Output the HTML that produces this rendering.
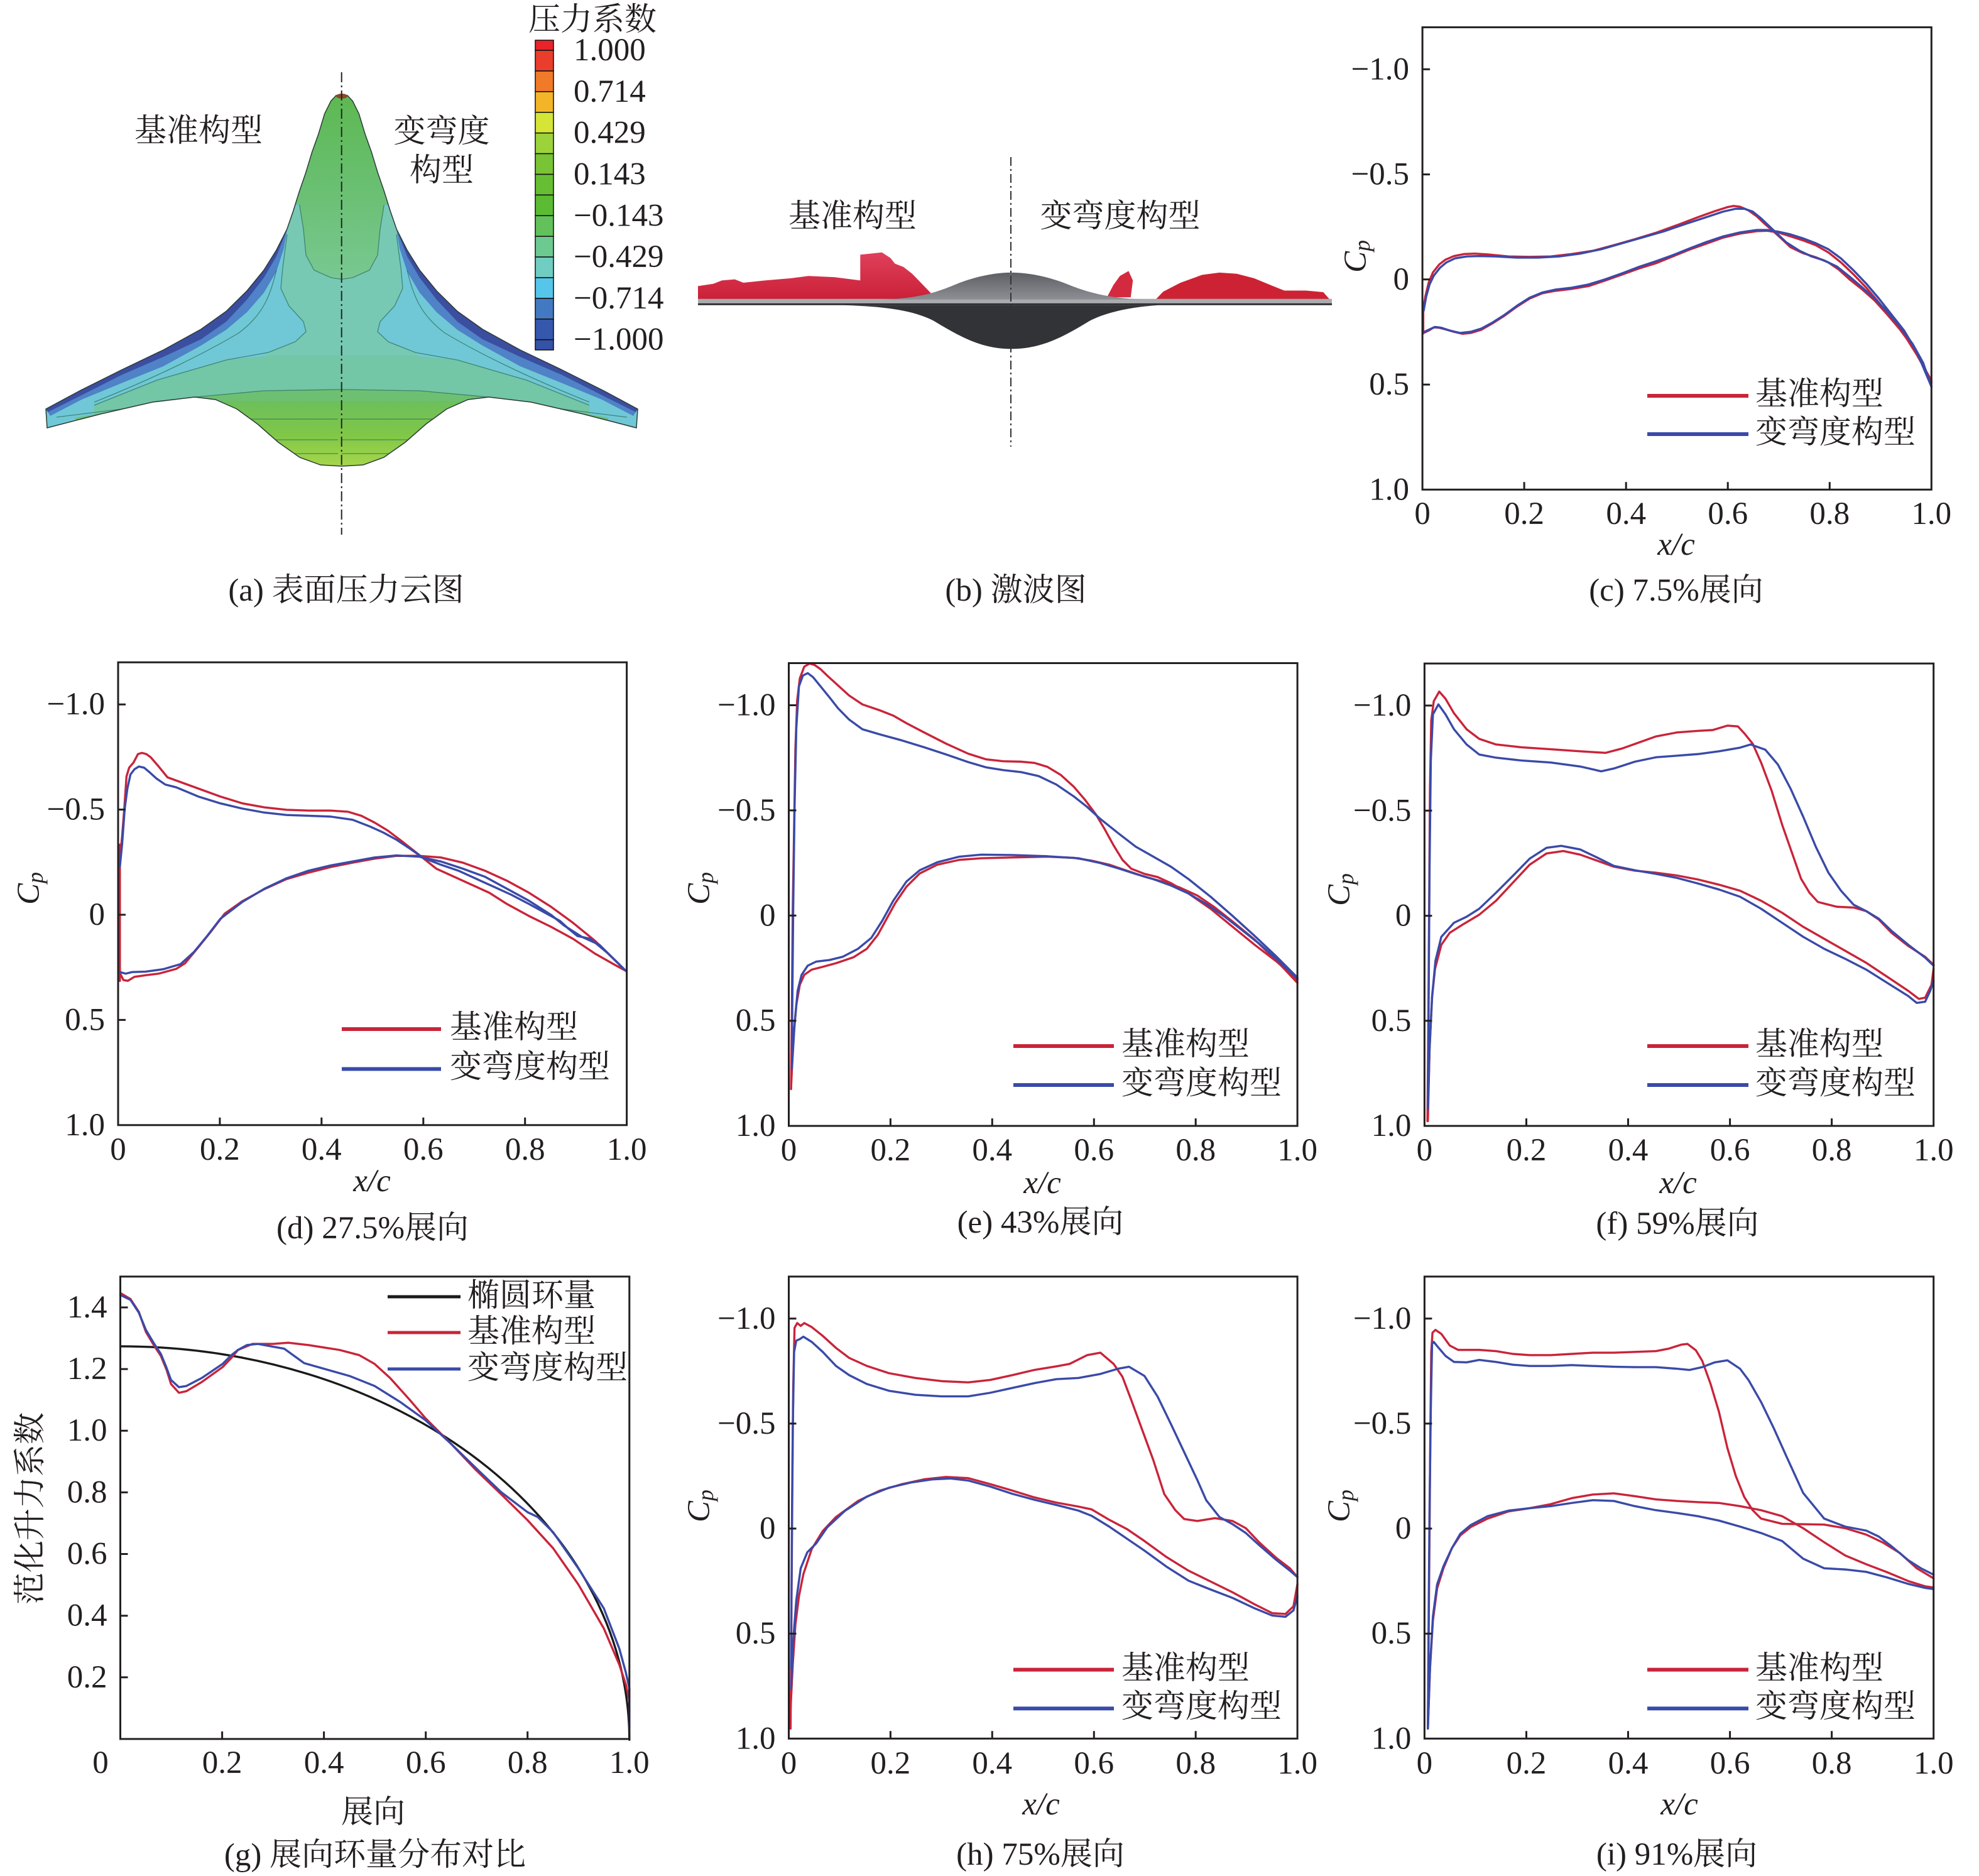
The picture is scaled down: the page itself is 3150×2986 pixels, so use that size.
<!DOCTYPE html>
<html><head><meta charset="utf-8">
<style>
html,body{margin:0;padding:0;background:#fff;}
body{width:3150px;height:2986px;overflow:hidden;}
svg{display:block}
.t{font-family:"Liberation Serif","Noto Serif CJK SC",serif;font-size:51px;fill:#231f20}
.z polyline,.z path.c{vector-effect:non-scaling-stroke;fill:none;stroke-width:3.4;stroke-linejoin:round;stroke-linecap:round}
.r{stroke:#c9243a}
.b{stroke:#3a4aa8}
.fr{fill:none;stroke:#231f20;stroke-width:3}
.tk{stroke:#231f20;stroke-width:3;fill:none}
.lg{stroke-width:6;stroke-linecap:butt}
.ct{fill:none;stroke:#2f6f5e;stroke-width:1.3;opacity:0.75}
</style></head><body>
<svg width="3150" height="2986" viewBox="0 0 3150 2986" xmlns="http://www.w3.org/2000/svg">
<rect width="3150" height="2986" fill="#fff"/>
<defs>
<clipPath id="wing"><path d="M544,150.6 L553,152 561.3,160.8 571.3,181 581.3,214 591.3,242 601.3,275 611.3,304 621.3,336 631.3,365 648,398 668,430 695,463 728,495.5 768,524 828,557 895,589 961,622 1015,651 1013,681 928,659 845,640 778,632 745,636 711,651 678,675 645,704 611,728 578,740 544,742 510,740 477,728 443,704 410,675 377,651 343,636 310,632 243,640 160,659 75,681 73,651 127,622 193,589 260,557 320,524 360,495.5 393,463 420,430 440,398 456.7,365 466.7,336 476.7,304 486.7,275 496.7,242 506.7,214 516.7,181 526.7,160.8 535,152 Z"/></clipPath>
<linearGradient id="noseG" x1="0" y1="0" x2="0" y2="1"><stop offset="0" stop-color="#5cb84f"/><stop offset="0.5" stop-color="#69bf70"/><stop offset="1" stop-color="#78c892"/></linearGradient>
<linearGradient id="bulgeG" x1="0" y1="0" x2="0" y2="1"><stop offset="0" stop-color="#6cbf5c"/><stop offset="0.5" stop-color="#80c748"/><stop offset="1" stop-color="#abd84a"/></linearGradient>
<linearGradient id="domeG" x1="0" y1="0" x2="0" y2="1"><stop offset="0" stop-color="#5d5f64"/><stop offset="1" stop-color="#8d8f94"/></linearGradient>
<linearGradient id="redG" x1="0" y1="0" x2="0" y2="1"><stop offset="0" stop-color="#e0405c"/><stop offset="1" stop-color="#c81e34"/></linearGradient>
<g id="half">
 <!-- fuselage teal -->
 <polygon fill="#77c9b4" points="430,330 544,330 544,600 380,600 427,561 470,544 487,528 483,512 460,487 447,459 450,426 457,373"/>
 <!-- nose green -->
 <polygon fill="url(#noseG)" points="400,140 544,140 544,444.5 527,442 500,430 487,406 483,365 476.7,326 430,330"/>
 <!-- LE medium blue -->
 <polygon fill="#4f82c6" points="457,365 440,398 420,430 393,463 360,495.5 320,524 260,557 193,589 127,622 73,651 80,662 130,636 193,610 260,583 320,550 360,525 393,497 420,466 440,432 452,395"/>
 <!-- LE dark blue -->
 <polygon fill="#3b4ea0" points="457,365 440,398 420,430 393,463 360,495.5 320,524 260,557 193,589 127,622 73,651 76,656 130,629 193,597 260,568 320,540 360,512 393,477 420,442 440,408"/>
 <!-- lower teal-green band -->
 <polygon fill="#73c6a6" points="150,645 250,605 360,573 430,566 544,566 544,800 150,800"/>
 <!-- green band -->
 <polygon fill="#6dc072" points="120,665 300,633 420,622 544,620 544,800 120,800"/>
 <rect x="300" y="638" width="250" height="110" fill="url(#bulgeG)"/>
 <!-- contour lines -->
 <path class="ct" d="M476.7,326 L483,365 487,406 500,430 527,442 544,444.5"/>
 <path class="ct" d="M457,373 L450,426 447,459 460,487 483,512 487,528 470,544 427,561 360,573 250,605 150,645"/>
 <path class="ct" d="M440,430 C430,470 420,500 380,530 C330,560 250,600 150,640"/>
 <path class="ct" d="M300,633 L420,622 544,620"/>
 <path class="ct" d="M360,667 L544,667"/>
 <path class="ct" d="M400,700 L544,700"/>
 <path class="ct" d="M440,722 L544,722"/>
 <path class="ct" d="M90,664 L243,645 310,637"/>
</g>
</defs>

<!-- ========== Panel (a) ========== -->
<g clip-path="url(#wing)">
 <rect x="0" y="100" width="1100" height="700" fill="#70c8d6"/>
 <use href="#half"/>
 <use href="#half" transform="matrix(-1,0,0,1,1088,0)"/>
</g>
<path d="M544,150.6 L553,152 561.3,160.8 571.3,181 581.3,214 591.3,242 601.3,275 611.3,304 621.3,336 631.3,365 648,398 668,430 695,463 728,495.5 768,524 828,557 895,589 961,622 1015,651 1013,681 928,659 845,640 778,632 745,636 711,651 678,675 645,704 611,728 578,740 544,742 510,740 477,728 443,704 410,675 377,651 343,636 310,632 243,640 160,659 75,681 73,651 127,622 193,589 260,557 320,524 360,495.5 393,463 420,430 440,398 456.7,365 466.7,336 476.7,304 486.7,275 496.7,242 506.7,214 516.7,181 526.7,160.8 535,152 Z" fill="none" stroke="#2b3b38" stroke-width="1.5"/>
<ellipse cx="544" cy="153" rx="9" ry="4" fill="#8a4a2a"/>
<line x1="543.7" y1="115" x2="543.7" y2="851" stroke="#222" stroke-width="2" stroke-dasharray="16 5 3 5"/>
<text class="t" x="316" y="209" text-anchor="middle" dominant-baseline="central">基准构型</text>
<text class="t" x="703" y="210" text-anchor="middle" dominant-baseline="central">变弯度</text>
<text class="t" x="703" y="272" text-anchor="middle" dominant-baseline="central">构型</text>
<!-- colorbar -->
<g stroke="#111" stroke-width="1.5">
 <rect x="852" y="64" width="29" height="16.1" fill="#e8232a"/>
 <rect x="852" y="80.1" width="29" height="32.9" fill="#ea3d2b"/>
 <rect x="852" y="113" width="29" height="32.9" fill="#f07a28"/>
 <rect x="852" y="145.9" width="29" height="32.9" fill="#f3b527"/>
 <rect x="852" y="178.8" width="29" height="32.9" fill="#d4e535"/>
 <rect x="852" y="211.7" width="29" height="32.9" fill="#9dd33a"/>
 <rect x="852" y="244.6" width="29" height="32.9" fill="#78c435"/>
 <rect x="852" y="277.5" width="29" height="32.9" fill="#66bf32"/>
 <rect x="852" y="310.4" width="29" height="32.9" fill="#5bbc34"/>
 <rect x="852" y="343.3" width="29" height="32.9" fill="#63c15c"/>
 <rect x="852" y="376.2" width="29" height="32.9" fill="#6cc98f"/>
 <rect x="852" y="409.1" width="29" height="32.9" fill="#6fcdc2"/>
 <rect x="852" y="442" width="29" height="32.9" fill="#55c6ea"/>
 <rect x="852" y="474.9" width="29" height="32.9" fill="#4379c3"/>
 <rect x="852" y="507.8" width="29" height="32.9" fill="#3558ad"/>
 <rect x="852" y="540.7" width="29" height="16.3" fill="#3452a6"/>
</g>
<text class="t" x="943" y="32" text-anchor="middle" dominant-baseline="central">压力系数</text>
<g>
 <text class="t" x="913" y="80.1" dominant-baseline="central">1.000</text>
 <text class="t" x="913" y="145.9" dominant-baseline="central">0.714</text>
 <text class="t" x="913" y="211.7" dominant-baseline="central">0.429</text>
 <text class="t" x="913" y="277.5" dominant-baseline="central">0.143</text>
 <text class="t" x="913" y="343.3" dominant-baseline="central">−0.143</text>
 <text class="t" x="913" y="409.1" dominant-baseline="central">−0.429</text>
 <text class="t" x="913" y="474.9" dominant-baseline="central">−0.714</text>
 <text class="t" x="913" y="540.7" dominant-baseline="central">−1.000</text>
</g>
<text class="t" x="551" y="940" text-anchor="middle" dominant-baseline="central">(a) 表面压力云图</text>

<!-- ========== Panel (b) ========== -->
<g transform="translate(1080,200) scale(0.68878,0.35714)">
 <path fill="url(#redG)" d="M45,790 L45,715 80,705 100,690 130,685 150,700 200,690 260,680 300,670 360,675 420,690 420,575 470,565 490,590 500,615 520,630 540,660 555,690 570,720 585,750 590,775 Z"/>
 <path fill="#cd2233" d="M1100,780 L1120,740 1160,700 1210,665 1250,655 1290,660 1330,680 1370,712 1400,735 1450,735 1490,742 1505,775 1510,785 Z"/>
 <path fill="#d42a40" d="M990,765 L1005,710 1020,670 1040,648 1050,690 1045,765 Z"/>
 <rect x="45" y="772" width="1465" height="22" fill="#a9abaf"/>
 <rect x="45" y="792" width="1465" height="8" fill="#2a2b2e"/>
 <path fill="url(#domeG)" d="M470,775 C560,770 600,740 650,700 C700,665 740,655 768,655 C800,655 840,665 890,700 C940,740 990,770 1080,775 Z"/>
 <path fill="#323337" d="M380,800 C470,805 540,820 590,870 C650,940 700,995 768,995 C840,995 890,940 950,870 C1000,820 1070,805 1110,800 Z"/>
</g>
<line x1="1609" y1="250" x2="1609" y2="711" stroke="#333" stroke-width="2" stroke-dasharray="14 5 3 5"/>
<text class="t" x="1357" y="345" text-anchor="middle" dominant-baseline="central">基准构型</text>
<text class="t" x="1783" y="345" text-anchor="middle" dominant-baseline="central">变弯度构型</text>
<text class="t" x="1617" y="940" text-anchor="middle" dominant-baseline="central">(b) 激波图</text>

<!-- ========== Panel (c) ========== -->
<g class="z" transform="translate(2100,0) scale(0.66964,0.63776)">
 <polyline class="r" points="247,760 247,832"/>
 <polyline class="r" points="248,765 252,740 260,705 270,680 285,660 300,648 320,639 345,634 370,633 400,635 450,640 500,641 550,640 600,634 650,626 700,612 750,597 800,581 850,562 900,542 940,527 970,517 985,514 1000,516 1020,525 1040,540 1060,560 1080,578 1100,597 1120,617 1150,632 1180,642 1210,655 1235,673 1260,697 1290,722 1320,750 1350,785 1380,822 1410,865 1435,910 1455,955"/>
 <polyline class="r" points="250,830 260,825 272,817 285,818 300,822 320,828 340,833 360,831 385,823 410,808 440,788 470,765 500,745 530,732 560,726 600,721 640,714 680,700 720,685 760,670 800,657 840,640 880,623 920,608 960,593 1000,583 1040,577 1065,576 1090,580 1120,590 1150,600 1180,612 1210,630 1240,655 1270,685 1300,718 1330,755 1360,795 1390,835 1420,885 1455,950"/>
 <polyline class="b" points="248,775 254,740 262,710 272,688 287,668 302,655 322,645 350,640 380,639 420,640 470,643 520,643 570,640 620,633 670,622 720,607 770,592 820,577 870,559 920,542 960,528 990,521 1010,521 1030,528 1050,545 1070,565 1090,585 1110,605 1140,625 1170,640 1200,650 1230,665 1260,690 1290,717 1320,745 1350,778 1380,815 1410,858 1435,905 1455,965"/>
 <polyline class="b" points="250,828 262,822 275,816 290,818 310,825 335,831 360,828 385,820 410,806 440,786 470,763 500,743 530,730 560,723 600,718 640,710 680,697 720,682 760,666 800,652 840,637 880,620 920,604 960,590 1000,580 1040,574 1065,574 1090,578 1120,585 1150,595 1180,607 1210,622 1240,645 1270,675 1300,708 1330,745 1360,785 1390,825 1420,878 1455,965"/>
</g>
<rect class="fr" x="2264.1" y="43.4" width="810.2" height="735.9"/>
<path class="tk" d="M2264.1,110.3h12M2264.1,277.6h12M2264.1,444.8h12M2264.1,612.1h12M2426.1,779.3v-12M2588.2,779.3v-12M2750.2,779.3v-12M2912.3,779.3v-12"/>
<g class="t" text-anchor="end" dominant-baseline="central">
 <text x="2243" y="110.3">−1.0</text><text x="2243" y="277.6">−0.5</text><text x="2243" y="444.8">0</text><text x="2243" y="612.1">0.5</text><text x="2243" y="779.3">1.0</text>
</g>
<g class="t" text-anchor="middle" dominant-baseline="central">
 <text x="2264.1" y="818">0</text><text x="2426.1" y="818">0.2</text><text x="2588.2" y="818">0.4</text><text x="2750.2" y="818">0.6</text><text x="2912.3" y="818">0.8</text><text x="3074.3" y="818">1.0</text>
 <text x="2668" y="867" font-style="italic">x/c</text>
 <text x="2668" y="940">(c) 7.5%展向</text>
</g>
<text class="t" x="2158" y="408" transform="rotate(-90 2158 408)" text-anchor="middle" dominant-baseline="central" font-style="italic" font-size="54">C<tspan font-size="36" dy="10">p</tspan></text>
<line class="lg" x1="2622" y1="630" x2="2783" y2="630" stroke="#c9243a"/>
<line class="lg" x1="2622" y1="691" x2="2783" y2="691" stroke="#3a4aa8"/>
<text class="t" x="2794" y="628" dominant-baseline="central">基准构型</text>
<text class="t" x="2794" y="689" dominant-baseline="central">变弯度构型</text>

<!-- ========== Panel (d) ========== -->
<g class="z" transform="translate(0,1000) scale(0.70153,0.63776)">
 <polyline class="r" points="272,540 272,880"/>
 <polyline class="r" points="272,575 277,520 282,450 287,370 293,348 303,335 313,314 322,311 332,314 342,322 360,345 380,372 400,380 450,400 500,420 550,437 600,447 650,453 700,455 750,455 790,458 820,468 850,485 880,505 910,530 940,556 965,578 990,600 1030,620 1070,640 1110,660 1150,688 1200,718 1250,745 1300,775 1350,812 1395,840 1420,855"/>
 <polyline class="r" points="272,860 280,878 290,880 305,870 330,866 360,862 400,850 420,836 450,796 480,755 510,712 550,681 600,651 650,626 700,610 750,596 800,585 850,575 900,568 950,568 1000,572 1050,585 1100,605 1150,630 1200,660 1250,695 1300,735 1350,780 1420,855"/>
 <polyline class="b" points="272,595 277,540 283,450 289,400 296,365 305,352 315,345 327,348 340,360 355,375 375,390 400,397 450,420 500,437 550,450 600,460 650,466 700,468 750,470 800,478 840,495 870,510 900,528 930,550 960,573 1000,590 1040,605 1080,625 1120,645 1160,665 1200,688 1240,712 1270,730 1290,750 1310,768 1340,775 1380,812 1420,855"/>
 <polyline class="b" points="272,858 285,862 300,858 330,857 370,851 410,838 440,808 470,768 500,725 550,683 600,650 650,624 700,605 750,592 800,582 850,572 900,567 950,570 1000,582 1050,600 1100,620 1150,650 1200,680 1250,715 1280,742 1320,770 1360,790 1420,855"/>
</g>
<rect class="fr" x="188" y="1054.2" width="809.6" height="736.6"/>
<path class="tk" d="M188,1121.2h12M188,1288.6h12M188,1456h12M188,1623.4h12M349.9,1790.8v-12M511.8,1790.8v-12M673.8,1790.8v-12M835.7,1790.8v-12"/>
<g class="t" text-anchor="end" dominant-baseline="central">
 <text x="167" y="1121.2">−1.0</text><text x="167" y="1288.6">−0.5</text><text x="167" y="1456">0</text><text x="167" y="1623.4">0.5</text><text x="167" y="1790.8">1.0</text>
</g>
<g class="t" text-anchor="middle" dominant-baseline="central">
 <text x="188" y="1830">0</text><text x="349.9" y="1830">0.2</text><text x="511.8" y="1830">0.4</text><text x="673.8" y="1830">0.6</text><text x="835.7" y="1830">0.8</text><text x="997.6" y="1830">1.0</text>
 <text x="592" y="1880" font-style="italic">x/c</text>
 <text x="593" y="1955">(d) 27.5%展向</text>
</g>
<text class="t" x="46" y="1414" transform="rotate(-90 46 1414)" text-anchor="middle" dominant-baseline="central" font-style="italic" font-size="54">C<tspan font-size="36" dy="10">p</tspan></text>
<line class="lg" x1="544" y1="1638" x2="702" y2="1638" stroke="#c9243a"/>
<line class="lg" x1="544" y1="1701.5" x2="702" y2="1701.5" stroke="#3a4aa8"/>
<text class="t" x="716" y="1636" dominant-baseline="central">基准构型</text>
<text class="t" x="716" y="1699" dominant-baseline="central">变弯度构型</text>

<!-- ========== Panel (e) ========== -->
<g class="z" transform="translate(1050,1000) scale(0.70153,0.63776)">
 <polyline class="r" points="298,1150 300,950 302,700 305,500 308,300 312,180 318,125 328,96 340,88 352,92 365,102 380,118 400,138 430,168 460,190 500,205 530,218 560,237 600,260 650,288 700,313 740,327 780,332 820,333 850,336 880,346 910,366 940,396 965,428 990,465 1010,502 1030,542 1050,578 1070,600 1100,613 1130,621 1160,636 1200,662 1250,700 1300,745 1350,790 1400,832 1447,878"/>
 <polyline class="r" points="298,1150 303,1030 310,940 318,890 328,865 345,852 370,845 400,836 440,821 470,800 495,765 515,725 535,685 560,645 590,612 630,590 680,578 730,574 800,572 880,570 940,573 980,580 1020,590 1060,605 1100,620 1140,632 1180,647 1220,667 1260,697 1300,732 1350,777 1400,830 1447,885"/>
 <polyline class="b" points="300,1050 303,700 306,450 310,250 316,145 325,118 336,112 348,122 365,145 385,172 405,200 430,228 460,252 500,265 550,280 600,297 650,315 700,334 740,347 780,354 820,359 860,369 900,390 940,420 970,446 1000,476 1040,511 1080,545 1120,570 1160,595 1200,626 1250,670 1300,718 1350,768 1400,820 1447,872"/>
 <polyline class="b" points="300,1100 306,990 313,905 322,865 336,842 355,832 385,828 415,820 450,800 480,773 505,730 530,680 560,632 590,604 630,584 680,570 730,565 800,566 880,569 950,574 1000,586 1040,599 1080,613 1120,626 1160,642 1200,662 1240,688 1280,718 1320,752 1360,787 1400,826 1447,875"/>
</g>
<rect class="fr" x="1255.5" y="1055.5" width="809.6" height="736.6"/>
<path class="tk" d="M1255.5,1122.5h12M1255.5,1289.9h12M1255.5,1457.3h12M1255.5,1624.7h12M1417.4,1792.1v-12M1579.3,1792.1v-12M1741.3,1792.1v-12M1903.2,1792.1v-12"/>
<g class="t" text-anchor="end" dominant-baseline="central">
 <text x="1234.5" y="1122.5">−1.0</text><text x="1234.5" y="1289.9">−0.5</text><text x="1234.5" y="1457.3">0</text><text x="1234.5" y="1624.7">0.5</text><text x="1234.5" y="1792.1">1.0</text>
</g>
<g class="t" text-anchor="middle" dominant-baseline="central">
 <text x="1255.5" y="1831">0</text><text x="1417.4" y="1831">0.2</text><text x="1579.3" y="1831">0.4</text><text x="1741.3" y="1831">0.6</text><text x="1903.2" y="1831">0.8</text><text x="2065.1" y="1831">1.0</text>
 <text x="1659" y="1883" font-style="italic">x/c</text>
 <text x="1656" y="1946">(e) 43%展向</text>
</g>
<text class="t" x="1113" y="1414" transform="rotate(-90 1113 1414)" text-anchor="middle" dominant-baseline="central" font-style="italic" font-size="54">C<tspan font-size="36" dy="10">p</tspan></text>
<line class="lg" x1="1613" y1="1665" x2="1773" y2="1665" stroke="#c9243a"/>
<line class="lg" x1="1613" y1="1727" x2="1773" y2="1727" stroke="#3a4aa8"/>
<text class="t" x="1785" y="1663" dominant-baseline="central">基准构型</text>
<text class="t" x="1785" y="1725" dominant-baseline="central">变弯度构型</text>

<!-- ========== Panel (f) ========== -->
<g class="z" transform="translate(2100,1000) scale(0.66964,0.63776)">
 <polyline class="r" points="257,1230 259,1000 261,700 263,400 266,230 272,182 285,158 300,176 320,212 350,252 380,276 420,290 480,297 550,302 620,307 680,311 720,300 760,285 800,270 850,260 900,256 935,254 970,243 995,245 1010,262 1030,288 1050,335 1075,405 1100,490 1120,550 1145,625 1165,660 1185,683 1230,695 1270,697 1300,706 1330,727 1360,760 1400,793 1440,820 1460,840"/>
 <polyline class="r" points="258,1230 262,1050 268,920 275,850 290,790 310,760 340,740 380,715 420,680 460,635 500,590 540,562 580,556 620,565 660,580 700,595 750,605 800,610 850,617 900,627 950,640 1000,655 1050,680 1100,710 1150,745 1200,775 1250,805 1300,835 1350,870 1400,905 1425,925 1440,922 1455,890 1460,850"/>
 <polyline class="b" points="258,1200 260,900 262,600 265,330 270,215 283,190 300,215 320,252 350,290 380,315 420,323 480,330 550,335 620,345 670,357 700,350 750,333 800,322 850,318 900,314 950,307 1000,298 1025,290 1060,303 1090,340 1120,400 1150,470 1180,545 1210,610 1240,655 1270,690 1300,706 1330,725 1360,755 1400,790 1440,822 1460,842"/>
 <polyline class="b" points="258,1200 262,1050 268,920 276,830 290,770 320,735 350,720 380,700 420,660 460,618 500,575 540,548 575,543 620,552 660,572 700,593 750,604 800,613 850,623 900,637 950,652 1000,670 1050,700 1100,735 1150,770 1200,800 1250,825 1300,852 1350,885 1400,918 1420,935 1440,932 1452,905 1460,880"/>
</g>
<rect class="fr" x="2267.4" y="1056.1" width="810.3" height="736"/>
<path class="tk" d="M2267.4,1123h12M2267.4,1290.3h12M2267.4,1457.6h12M2267.4,1624.8h12M2429.5,1792.1v-12M2591.5,1792.1v-12M2753.6,1792.1v-12M2915.6,1792.1v-12"/>
<g class="t" text-anchor="end" dominant-baseline="central">
 <text x="2246.4" y="1123">−1.0</text><text x="2246.4" y="1290.3">−0.5</text><text x="2246.4" y="1457.6">0</text><text x="2246.4" y="1624.8">0.5</text><text x="2246.4" y="1792.1">1.0</text>
</g>
<g class="t" text-anchor="middle" dominant-baseline="central">
 <text x="2267.4" y="1831">0</text><text x="2429.5" y="1831">0.2</text><text x="2591.5" y="1831">0.4</text><text x="2753.6" y="1831">0.6</text><text x="2915.6" y="1831">0.8</text><text x="3077.7" y="1831">1.0</text>
 <text x="2671" y="1883" font-style="italic">x/c</text>
 <text x="2670" y="1948">(f) 59%展向</text>
</g>
<text class="t" x="2132" y="1416" transform="rotate(-90 2132 1416)" text-anchor="middle" dominant-baseline="central" font-style="italic" font-size="54">C<tspan font-size="36" dy="10">p</tspan></text>
<line class="lg" x1="2622" y1="1665" x2="2783" y2="1665" stroke="#c9243a"/>
<line class="lg" x1="2622" y1="1727" x2="2783" y2="1727" stroke="#3a4aa8"/>
<text class="t" x="2794" y="1663" dominant-baseline="central">基准构型</text>
<text class="t" x="2794" y="1725" dominant-baseline="central">变弯度构型</text>

<!-- ========== Panel (g) ========== -->
<g class="z" transform="translate(0,1986) scale(0.70153,0.63776)">
 <path class="c" d="M273,246 A1155,982 0 0 1 1428,1228" stroke="#1a1a1a"/>
 <polyline class="r" points="273,113 296,128 315,160 331,210 350,245 365,270 378,305 388,340 406,362 423,358 458,335 505,298 525,275 540,255 573,240 620,240 654,237 700,243 770,255 815,268 850,290 885,325 930,380 965,425 1024,490 1080,555 1137,615 1197,680 1255,750 1312,840 1370,950 1405,1040 1420,1090 1428,1130 1428,1200"/>
 <polyline class="b" points="273,118 296,130 315,162 331,205 350,240 365,265 378,300 388,330 406,348 423,345 458,325 505,290 525,268 540,255 560,243 585,240 620,247 645,252 690,288 735,302 793,320 850,345 908,385 965,430 1024,490 1080,550 1137,610 1197,660 1220,672 1255,710 1312,800 1370,900 1405,1000 1420,1060 1428,1100 1428,1200"/>
</g>
<rect class="fr" x="191.5" y="2031.9" width="810.3" height="736"/>
<path class="tk" d="M191.5,2081h12M191.5,2179.1h12M191.5,2277.2h12M191.5,2375.4h12M191.5,2473.5h12M191.5,2571.7h12M191.5,2669.8h12M353.6,2767.9v-12M515.6,2767.9v-12M677.7,2767.9v-12M839.7,2767.9v-12"/>
<g class="t" text-anchor="end" dominant-baseline="central">
 <text x="170.5" y="2081">1.4</text><text x="170.5" y="2179.1">1.2</text><text x="170.5" y="2277.2">1.0</text><text x="170.5" y="2375.4">0.8</text><text x="170.5" y="2473.5">0.6</text><text x="170.5" y="2571.7">0.4</text><text x="170.5" y="2669.8">0.2</text>
</g>
<g class="t" text-anchor="middle" dominant-baseline="central">
 <text x="160" y="2806">0</text><text x="353.6" y="2806">0.2</text><text x="515.6" y="2806">0.4</text><text x="677.7" y="2806">0.6</text><text x="839.7" y="2806">0.8</text><text x="1001.8" y="2806">1.0</text>
 <text x="594" y="2885">展向</text>
 <text x="597" y="2953">(g) 展向环量分布对比</text>
</g>
<text class="t" x="49" y="2401" transform="rotate(-90 49 2401)" text-anchor="middle" dominant-baseline="central">范化升力系数</text>
<line x1="617" y1="2064" x2="733" y2="2064" stroke="#1a1a1a" stroke-width="5"/>
<line x1="617" y1="2121" x2="733" y2="2121" stroke="#c9243a" stroke-width="5"/>
<line x1="617" y1="2179" x2="733" y2="2179" stroke="#3a4aa8" stroke-width="5"/>
<text class="t" x="744" y="2063" dominant-baseline="central">椭圆环量</text>
<text class="t" x="744" y="2120" dominant-baseline="central">基准构型</text>
<text class="t" x="744" y="2178" dominant-baseline="central">变弯度构型</text>

<!-- ========== Panel (h) ========== -->
<g class="z" transform="translate(1050,1986) scale(0.70153,0.63776)">
 <polyline class="r" points="297,1200 299,900 301,600 303,350 306,200 312,188 320,195 328,188 345,198 370,220 400,250 430,275 470,295 520,313 580,325 640,333 700,336 750,330 800,318 850,305 900,296 930,290 970,268 1000,262 1030,290 1050,322 1070,380 1100,470 1120,530 1145,615 1170,655 1190,677 1220,682 1260,675 1300,682 1330,700 1360,735 1400,775 1430,800 1447,822"/>
 <polyline class="r" points="297,1150 302,1040 308,940 316,870 326,815 345,752 370,707 400,672 450,632 500,606 550,590 600,578 650,572 700,575 750,590 800,606 850,623 900,636 950,646 980,653 1020,679 1060,702 1100,732 1150,772 1200,806 1250,833 1300,860 1350,890 1390,912 1420,914 1438,895 1447,840"/>
 <polyline class="b" points="298,1050 300,700 302,450 305,260 310,232 318,228 326,222 345,235 370,260 400,295 430,318 470,340 520,357 580,367 640,371 700,371 750,362 800,350 850,338 900,328 950,325 1000,315 1040,302 1065,297 1100,320 1130,372 1160,440 1190,510 1220,580 1240,630 1270,672 1300,690 1330,712 1360,742 1400,780 1430,806 1447,822"/>
 <polyline class="b" points="298,1100 303,980 310,880 320,800 335,760 355,738 380,698 420,657 470,621 520,599 570,586 620,578 660,576 700,581 750,596 800,614 850,629 900,642 950,656 980,669 1020,696 1060,726 1100,756 1150,796 1200,831 1250,853 1300,874 1350,900 1390,918 1420,921 1438,905 1447,870"/>
</g>
<rect class="fr" x="1255.5" y="2031.9" width="809.6" height="735.4"/>
<path class="tk" d="M1255.5,2098.8h12M1255.5,2265.9h12M1255.5,2433h12M1255.5,2600.2h12M1417.4,2767.3v-12M1579.3,2767.3v-12M1741.3,2767.3v-12M1903.2,2767.3v-12"/>
<g class="t" text-anchor="end" dominant-baseline="central">
 <text x="1234.5" y="2098.8">−1.0</text><text x="1234.5" y="2265.9">−0.5</text><text x="1234.5" y="2433">0</text><text x="1234.5" y="2600.2">0.5</text><text x="1234.5" y="2767.3">1.0</text>
</g>
<g class="t" text-anchor="middle" dominant-baseline="central">
 <text x="1255.5" y="2807">0</text><text x="1417.4" y="2807">0.2</text><text x="1579.3" y="2807">0.4</text><text x="1741.3" y="2807">0.6</text><text x="1903.2" y="2807">0.8</text><text x="2065.1" y="2807">1.0</text>
 <text x="1657" y="2872" font-style="italic">x/c</text>
 <text x="1656" y="2952">(h) 75%展向</text>
</g>
<text class="t" x="1113" y="2397" transform="rotate(-90 1113 2397)" text-anchor="middle" dominant-baseline="central" font-style="italic" font-size="54">C<tspan font-size="36" dy="10">p</tspan></text>
<line class="lg" x1="1613" y1="2657.6" x2="1773" y2="2657.6" stroke="#c9243a"/>
<line class="lg" x1="1613" y1="2719.4" x2="1773" y2="2719.4" stroke="#3a4aa8"/>
<text class="t" x="1785" y="2656" dominant-baseline="central">基准构型</text>
<text class="t" x="1785" y="2717" dominant-baseline="central">变弯度构型</text>

<!-- ========== Panel (i) ========== -->
<g class="z" transform="translate(2100,1986) scale(0.66964,0.63776)">
 <polyline class="r" points="258,1200 260,950 262,700 264,450 266,260 269,212 276,205 290,215 310,244 330,255 380,255 420,258 460,265 500,268 550,268 600,265 650,262 700,262 750,260 800,258 830,252 860,242 875,240 895,256 910,282 930,340 950,410 970,500 990,570 1010,622 1030,655 1050,676 1100,689 1150,690 1200,691 1250,700 1300,716 1340,736 1380,762 1420,800 1460,825"/>
 <polyline class="r" points="258,1200 263,1050 270,930 280,850 295,800 315,750 335,718 360,697 400,676 450,658 500,650 550,640 600,625 650,616 700,613 750,620 800,628 850,632 900,635 950,637 1000,645 1050,655 1100,670 1150,700 1200,735 1250,768 1300,790 1350,810 1400,832 1440,845 1460,848"/>
 <polyline class="b" points="258,1200 260,900 262,650 265,400 268,240 272,235 282,248 300,270 320,285 350,286 380,280 420,285 460,292 500,295 550,295 600,293 650,295 700,297 750,298 800,298 850,302 880,305 910,298 940,286 970,281 1000,302 1020,330 1050,385 1080,450 1110,520 1150,612 1200,676 1250,696 1300,706 1330,721 1360,745 1400,780 1430,800 1460,816"/>
 <polyline class="b" points="258,1200 263,1050 270,920 280,840 295,795 315,750 335,714 360,692 400,670 450,656 500,650 550,645 600,637 650,630 700,632 750,645 800,655 850,662 900,670 950,681 1000,696 1050,712 1100,732 1150,776 1200,800 1250,803 1300,809 1350,823 1400,839 1440,849 1460,852"/>
</g>
<rect class="fr" x="2267.4" y="2031.9" width="810.3" height="735.4"/>
<path class="tk" d="M2267.4,2098.8h12M2267.4,2265.9h12M2267.4,2433h12M2267.4,2600.2h12M2429.5,2767.3v-12M2591.5,2767.3v-12M2753.6,2767.3v-12M2915.6,2767.3v-12"/>
<g class="t" text-anchor="end" dominant-baseline="central">
 <text x="2246.4" y="2098.8">−1.0</text><text x="2246.4" y="2265.9">−0.5</text><text x="2246.4" y="2433">0</text><text x="2246.4" y="2600.2">0.5</text><text x="2246.4" y="2767.3">1.0</text>
</g>
<g class="t" text-anchor="middle" dominant-baseline="central">
 <text x="2267.4" y="2807">0</text><text x="2429.5" y="2807">0.2</text><text x="2591.5" y="2807">0.4</text><text x="2753.6" y="2807">0.6</text><text x="2915.6" y="2807">0.8</text><text x="3077.7" y="2807">1.0</text>
 <text x="2673" y="2872" font-style="italic">x/c</text>
 <text x="2669" y="2952">(i) 91%展向</text>
</g>
<text class="t" x="2132" y="2397" transform="rotate(-90 2132 2397)" text-anchor="middle" dominant-baseline="central" font-style="italic" font-size="54">C<tspan font-size="36" dy="10">p</tspan></text>
<line class="lg" x1="2622" y1="2657.6" x2="2783" y2="2657.6" stroke="#c9243a"/>
<line class="lg" x1="2622" y1="2719.4" x2="2783" y2="2719.4" stroke="#3a4aa8"/>
<text class="t" x="2794" y="2656" dominant-baseline="central">基准构型</text>
<text class="t" x="2794" y="2717" dominant-baseline="central">变弯度构型</text>
</svg>
</body></html>
